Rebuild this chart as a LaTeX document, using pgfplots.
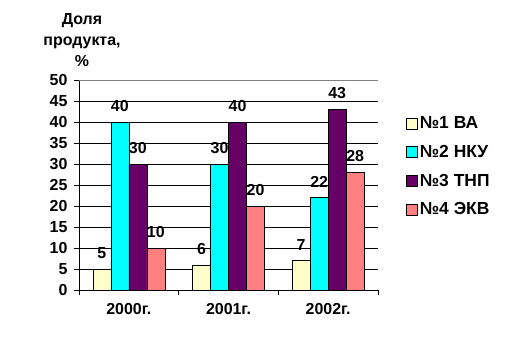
\documentclass[border=0pt]{standalone}
\usepackage{fontspec}
\setmainfont{Liberation Sans}
\usepackage{pgfplots}
\pgfplotsset{compat=1.18}
\definecolor{cA}{HTML}{FFFFCC}
\definecolor{cB}{HTML}{00FFFF}
\definecolor{cC}{HTML}{660066}
\definecolor{cD}{HTML}{FF8080}
\newcommand{\bfs}{\bfseries\fontsize{16}{17}\selectfont}
\newcommand{\bfl}{\bfseries\fontsize{16}{18}\selectfont}
\newcommand{\bfg}{\bfseries\fontsize{17.5}{19}\selectfont}
\begin{document}
\begin{tikzpicture}[x=1bp,y=1bp]
\path (0,0) rectangle (517,343);
\node[font=\bfseries\fontsize{16}{21}\selectfont, align=center] at (82,303) {Доля\\продукта,\\\%};
\begin{axis}[
  at={(79bp,53bp)}, anchor=south west,
  width=299bp, height=210bp, scale only axis,
  /pgf/number format/assume math mode=true,
  ymin=0, ymax=50, ytick={0,5,...,50},
  xmin=-0.5, xmax=2.5,
  xtick={-0.5,0.5,1.5,2.5},
  x tick label as interval,
  xticklabels={2000г.,2001г.,2002г.},
  axis x line*=bottom, axis y line*=left,
  axis line style={black, line width=0.6pt, -},
  ymajorgrids, grid style={black, line width=0.6pt},
  tick align=outside, major tick length=5bp,
  tick style={black, line width=0.6pt},
  ybar=0pt, bar width=18bp,
  y tick label style={font=\bfs, xshift=-3bp},
  x tick label style={font=\bfl, yshift=-5bp},
  nodes near coords,
  nodes near coords style={font=\bfs, yshift=7bp},
  legend style={at={(1.084,0.845)}, anchor=north west, draw=none, fill=none,
    font=\bfg, row sep=11bp, cells={anchor=west}},
  legend image code/.code={\draw[#1, draw=black, line width=0.5pt] (0bp,-5.5bp) rectangle (11bp,5.5bp);},
]
\addplot[fill=cA, draw=black, line width=0.5pt] coordinates {(0,5) (1,6) (2,7)};
\addplot[fill=cB, draw=black, line width=0.5pt] coordinates {(0,40) (1,30) (2,22)};
\addplot[fill=cC, draw=black, line width=0.5pt] coordinates {(0,30) (1,40) (2,43)};
\addplot[fill=cD, draw=black, line width=0.5pt] coordinates {(0,10) (1,20) (2,28)};
\legend{№1 ВА,№2 НКУ,№3 ТНП,№4 ЭКВ}
\draw[gray, line width=0.6pt] (rel axis cs:0,1) -- (rel axis cs:1,1);
\end{axis}
\end{tikzpicture}
\end{document}
